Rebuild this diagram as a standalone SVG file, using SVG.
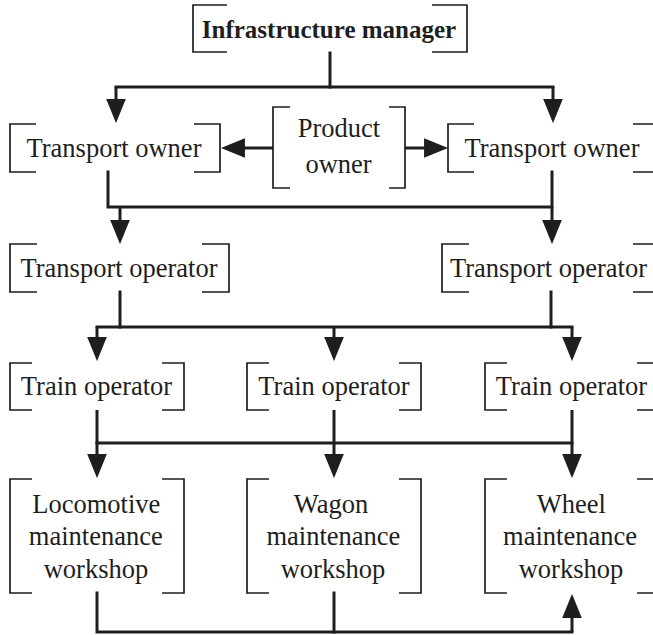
<svg xmlns="http://www.w3.org/2000/svg" width="653" height="635" viewBox="0 0 653 635">
  <style>
    .bracket { fill: none; stroke: #1e1e1e; stroke-width: 1.7; }
    .link { fill: none; stroke: #1e1e1e; stroke-width: 3; stroke-linejoin: miter; stroke-linecap: square; }
    .arrow { fill: none; stroke: #1e1e1e; stroke-width: 3; marker-end: url(#head); }
    text { font-family: "Liberation Serif", "Times New Roman", serif; font-size: 26.5px; fill: #1e1e1e; text-anchor: middle; }
    .bold { font-weight: bold; font-size: 25px; }
  </style>
  <defs>
    <marker id="head" markerUnits="userSpaceOnUse" markerWidth="24" markerHeight="20" viewBox="0 0 22 18" refX="10" refY="9" orient="auto">
      <path d="M0,0 L22,9 L0,18 Z" fill="#1e1e1e"/>
    </marker>
  </defs>
  <rect width="653" height="635" fill="#ffffff"/>

  <!-- connectors -->
  <g id="connectors">
    <!-- infrastructure manager to both transport owners -->
    <path class="link" d="M330,53 V87"/>
    <path class="link" d="M116,87 H553"/>
    <path class="arrow" d="M116,87 V110"/>
    <path class="arrow" d="M553,87 V110"/>
    <!-- product owner to transport owners -->
    <path class="arrow" d="M273,148 H234"/>
    <path class="arrow" d="M405,148 H435"/>
    <!-- transport owners to transport operators -->
    <path class="link" d="M108,172 V207 H552 V172"/>
    <path class="arrow" d="M120,207 V231"/>
    <path class="arrow" d="M552,207 V231"/>
    <!-- transport operators to train operators -->
    <path class="link" d="M120,292 V327"/>
    <path class="link" d="M551,292 V327"/>
    <path class="link" d="M97,327 H572"/>
    <path class="arrow" d="M97,327 V348"/>
    <path class="arrow" d="M334,327 V348"/>
    <path class="arrow" d="M572,327 V348"/>
    <!-- train operators to workshops -->
    <path class="link" d="M97,443 H572"/>
    <path class="arrow" d="M97,410 V465"/>
    <path class="arrow" d="M334,410 V465"/>
    <path class="arrow" d="M572,410 V465"/>
    <!-- workshops back to wheel workshop -->
    <path class="link" d="M97,593 V632 H572"/>
    <path class="link" d="M334,593 V632"/>
    <path class="arrow" d="M572,632 V607"/>
  </g>

  <g id="infrastructure-manager">
    <path class="bracket" d="M227,5 H193 V52 H227 M432,5 H467 V52 H432"/>
    <text class="bold" x="329" y="38">Infrastructure manager</text>
  </g>

  <g id="transport-owner-left">
    <path class="bracket" d="M36,124 H10 V172 H36 M194,124 H220 V172 H194"/>
    <text x="114" y="157">Transport owner</text>
  </g>

  <g id="product-owner">
    <path class="bracket" d="M290,107 H273 V188 H290 M389,107 H405 V188 H389"/>
    <text x="339" y="137">Product</text>
    <text x="338.5" y="172.5">owner</text>
  </g>

  <g id="transport-owner-right">
    <path class="bracket" d="M474,124 H448 V172 H474 M633,124 H658 V172 H633"/>
    <text x="552" y="157">Transport owner</text>
  </g>

  <g id="transport-operator-left">
    <path class="bracket" d="M37,244 H10 V292 H37 M202,244 H229 V292 H202"/>
    <text x="119" y="277">Transport operator</text>
  </g>

  <g id="transport-operator-right">
    <path class="bracket" d="M469,244 H442 V292 H469 M633,244 H658 V292 H633"/>
    <text x="548.5" y="277">Transport operator</text>
  </g>

  <g id="train-operator-1">
    <path class="bracket" d="M32,363 H10 V410 H32 M162,363 H184 V410 H162"/>
    <text x="96.5" y="395">Train operator</text>
  </g>

  <g id="train-operator-2">
    <path class="bracket" d="M269,363 H247 V410 H269 M399,363 H421 V410 H399"/>
    <text x="334" y="395">Train operator</text>
  </g>

  <g id="train-operator-3">
    <path class="bracket" d="M507,363 H485 V410 H507 M637,363 H659 V410 H637"/>
    <text x="571.5" y="395">Train operator</text>
  </g>

  <g id="locomotive-workshop">
    <path class="bracket" d="M32,479 H10 V593 H32 M162,479 H184 V593 H162"/>
    <text x="96.3" y="512.5">Locomotive</text>
    <text x="95.8" y="545">maintenance</text>
    <text x="96" y="577.5">workshop</text>
  </g>

  <g id="wagon-workshop">
    <path class="bracket" d="M269,479 H247 V593 H269 M399,479 H421 V593 H399"/>
    <text x="331" y="512.5">Wagon</text>
    <text x="333.4" y="545">maintenance</text>
    <text x="333" y="577.5">workshop</text>
  </g>

  <g id="wheel-workshop">
    <path class="bracket" d="M507,479 H485 V593 H507 M637,479 H659 V593 H637"/>
    <text x="571.3" y="512.5">Wheel</text>
    <text x="570" y="545">maintenance</text>
    <text x="571" y="577.5">workshop</text>
  </g>
</svg>
